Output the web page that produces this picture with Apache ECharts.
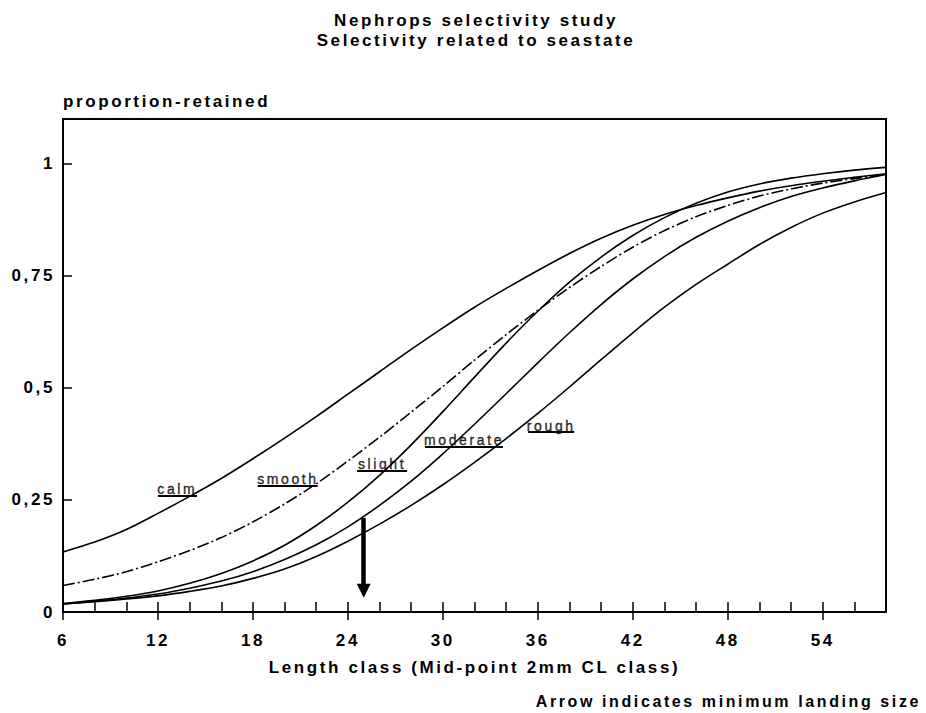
<!DOCTYPE html>
<html>
<head>
<meta charset="utf-8">
<script src="https://cdn.jsdelivr.net/npm/echarts@6/dist/echarts.min.js"></script>
<style>
  html, body { margin: 0; padding: 0; background: #fff; }
  #main { width: 926px; height: 713px; }
  #main text { letter-spacing: 2.6px; }
</style>
</head>
<body>
<div id="main"></div>
<script>
// ---- data ----
const lengthClass = [6, 8, 10, 12, 14, 16, 18, 20, 22, 24, 26, 28, 30, 32, 34, 36, 38, 40, 42, 44, 46, 48, 50, 52, 54, 56, 58];
const calm     = [0.134, 0.156, 0.184, 0.220, 0.258, 0.298, 0.342, 0.388, 0.436, 0.486, 0.536, 0.586, 0.634, 0.680, 0.722, 0.762, 0.800, 0.834, 0.863, 0.887, 0.907, 0.924, 0.939, 0.951, 0.961, 0.970, 0.978];
const smooth   = [0.059, 0.073, 0.090, 0.112, 0.137, 0.166, 0.201, 0.241, 0.286, 0.337, 0.390, 0.446, 0.503, 0.562, 0.619, 0.673, 0.724, 0.771, 0.814, 0.851, 0.882, 0.907, 0.928, 0.944, 0.957, 0.967, 0.976];
const slight   = [0.019, 0.026, 0.035, 0.047, 0.064, 0.086, 0.114, 0.149, 0.193, 0.245, 0.305, 0.373, 0.447, 0.524, 0.600, 0.671, 0.736, 0.792, 0.840, 0.880, 0.912, 0.937, 0.955, 0.968, 0.978, 0.986, 0.992];
const moderate = [0.018, 0.024, 0.031, 0.040, 0.053, 0.069, 0.090, 0.117, 0.150, 0.190, 0.238, 0.292, 0.353, 0.419, 0.487, 0.556, 0.623, 0.686, 0.743, 0.793, 0.836, 0.872, 0.902, 0.927, 0.946, 0.962, 0.976];
const rough    = [0.018, 0.023, 0.029, 0.036, 0.046, 0.058, 0.075, 0.096, 0.124, 0.158, 0.196, 0.238, 0.284, 0.334, 0.387, 0.443, 0.502, 0.563, 0.623, 0.680, 0.731, 0.776, 0.820, 0.858, 0.890, 0.915, 0.936];

const xMajorTicks = [6, 12, 18, 24, 30, 36, 42, 48, 54];
const xMinorTicks = [6, 8, 10, 12, 14, 16, 18, 20, 22, 24, 26, 28, 30, 32, 34, 36, 38, 40, 42, 44, 46, 48, 50, 52, 54, 56];
const yTickValues = [0, 0.25, 0.5, 0.75, 1];
const yTickLabels = ['0', '0,25', '0,5', '0,75', '1'];

// curve labels: [length, proportion (text centre), name]
const curveLabels = [
  [13.22, 0.274, 'calm'],
  [20.21, 0.2975, 'smooth'],
  [26.16, 0.331, 'slight'],
  [31.34, 0.3846, 'moderate'],
  [36.85, 0.416, 'rough']
];
// underline segments: [fromLength, toLength, proportion]
const underlines = [
  [12.0, 14.47, 0.2585],
  [18.30, 22.09, 0.282],
  [24.58, 27.74, 0.316],
  [28.87, 33.80, 0.3696],
  [35.39, 38.30, 0.403]
];
// minimum landing size arrow: [length, fromProportion, toProportion]
const arrowMLS = [25, 0.21, 0.0475];

const FONT = '"Liberation Sans", Arial, sans-serif';
const pairs = (ys) => lengthClass.map((x, i) => [x, ys[i]]);
const curveStyle = { color: '#000', width: 1.6 };
const curveBase = { type: 'line', symbol: 'none', smooth: 0.3, silent: true };

const chart = echarts.init(document.getElementById('main'), null, { renderer: 'svg' });

const option = {
  animation: false,
  backgroundColor: '#fff',
  graphic: [
    { type: 'text', x: 476, y: 20, style: { text: 'Nephrops selectivity study', font: 'bold 17px ' + FONT, fill: '#000', align: 'center', verticalAlign: 'middle', textAlign: 'center', textVerticalAlign: 'middle' } },
    { type: 'text', x: 476, y: 40, style: { text: 'Selectivity related to seastate', font: 'bold 17px ' + FONT, fill: '#000', align: 'center', verticalAlign: 'middle', textAlign: 'center', textVerticalAlign: 'middle' } },
    { type: 'text', x: 921, y: 701, style: { text: 'Arrow indicates minimum landing size', font: 'bold 16px ' + FONT, fill: '#000', align: 'right', verticalAlign: 'middle', textAlign: 'right', textVerticalAlign: 'middle' } }
  ],
  grid: {
    left: 63, right: 40, top: 119, bottom: 101,
    show: true, borderColor: '#000', borderWidth: 2, backgroundColor: 'transparent'
  },
  xAxis: [
    {
      type: 'value', min: 6, max: 58, interval: 2, position: 'bottom',
      axisLine: { show: true, onZero: false, lineStyle: { color: '#000', width: 2 } },
      axisTick: { show: true, inside: true, length: 10, customValues: xMinorTicks, lineStyle: { color: '#000', width: 1.5 } },
      axisLabel: { show: false },
      splitLine: { show: false }
    },
    {
      type: 'value', min: 6, max: 58, interval: 6, position: 'bottom',
      axisLine: { show: false, onZero: false },
      axisTick: { show: true, inside: false, length: 8, customValues: xMajorTicks, lineStyle: { color: '#000', width: 1.5 } },
      axisLabel: { show: true, customValues: xMajorTicks, margin: 20, color: '#000', fontFamily: FONT, fontWeight: 'bold', fontSize: 17 },
      splitLine: { show: false },
      name: 'Length class (Mid-point 2mm CL class)',
      nameLocation: 'middle', nameGap: 55,
      nameTextStyle: { color: '#000', fontFamily: FONT, fontWeight: 'bold', fontSize: 17, verticalAlign: 'middle' }
    }
  ],
  yAxis: {
    type: 'value', min: 0, max: 1.1, interval: 0.25,
    axisLine: { show: true, onZero: false, lineStyle: { color: '#000', width: 2 } },
    axisTick: { show: true, inside: true, length: 9, customValues: yTickValues, lineStyle: { color: '#000', width: 1.5 } },
    axisLabel: {
      show: true, customValues: yTickValues, margin: 8, color: '#000', fontFamily: FONT, fontWeight: 'bold', fontSize: 17,
      formatter: (v) => { const i = yTickValues.findIndex(t => Math.abs(t - v) < 1e-9); return i >= 0 ? yTickLabels[i] : ''; }
    },
    splitLine: { show: false },
    name: 'proportion-retained', nameLocation: 'end', nameGap: 18,
    nameTextStyle: { color: '#000', fontFamily: FONT, fontWeight: 'bold', fontSize: 17, align: 'left', verticalAlign: 'middle' }
  },
  series: [
    Object.assign({ name: 'calm', data: pairs(calm), lineStyle: curveStyle }, curveBase),
    Object.assign({ name: 'smooth', data: pairs(smooth), lineStyle: { color: '#000', width: 1.6, type: [12, 3, 2, 3] } }, curveBase),
    Object.assign({ name: 'slight', data: pairs(slight), lineStyle: curveStyle }, curveBase),
    Object.assign({ name: 'moderate', data: pairs(moderate), lineStyle: curveStyle }, curveBase),
    Object.assign({ name: 'rough', data: pairs(rough), lineStyle: curveStyle }, curveBase),
    {
      name: 'labels', type: 'scatter', data: curveLabels, symbolSize: 0, silent: true,
      itemStyle: { color: '#000' },
      label: { show: true, position: 'inside', formatter: (p) => p.value[2], color: '#000', textBorderWidth: 0.4, textBorderColor: '#000', fontFamily: FONT, fontSize: 14 }
    },
    {
      name: 'underlines', type: 'line', data: [], silent: true,
      markLine: {
        silent: true, symbol: 'none', label: { show: false },
        lineStyle: { color: '#000', width: 2, type: 'solid' },
        data: underlines.map(u => [{ coord: [u[0], u[2]] }, { coord: [u[1], u[2]] }])
      }
    },
    {
      name: 'arrow', type: 'line', data: [], silent: true,
      markLine: {
        silent: true, symbol: ['none', 'triangle'], symbolSize: 14, label: { show: false },
        lineStyle: { color: '#000', width: 4.5, type: 'solid' },
        itemStyle: { color: '#000' },
        data: [[{ coord: [arrowMLS[0], arrowMLS[1]] }, { coord: [arrowMLS[0], arrowMLS[2]] }]]
      }
    }
  ]
};
chart.setOption(option);
</script>
</body>
</html>
